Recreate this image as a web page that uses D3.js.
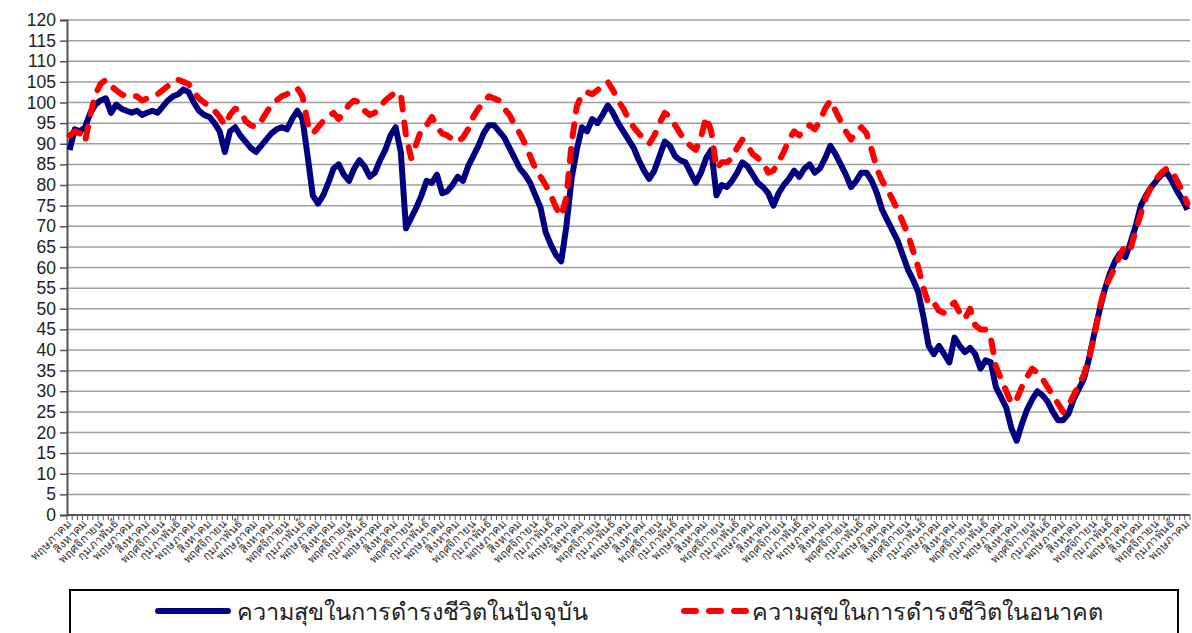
<!DOCTYPE html>
<html>
<head>
<meta charset="utf-8">
<script src="https://cdn.jsdelivr.net/npm/d3@7"></script>
<style>
  body { margin: 0; background: #fff; }
  svg { display: block; font-family: "Liberation Sans", Arial, sans-serif; }
</style>
</head>
<body>
<div id="chart"></div>
<script>
// Thai month names, categories start at May and run monthly
const monthNames = ["มกราคม","กุมภาพันธ์","มีนาคม","เมษายน","พฤษภาคม","มิถุนายน",
  "กรกฎาคม","สิงหาคม","กันยายน","ตุลาคม","พฤศจิกายน","ธันวาคม"];
const startMonth = 4;

// ความสุขในการดำรงชีวิตในปัจจุบัน
const current = [
  88.5,93.5,93,94,97.5,99.5,100.5,101,97.5,99.5,98.5,98,97.5,98,97,97.5,98,97.5,99,100.5,
  101.5,102,103.2,102.5,100,98,97,96.5,95,93,88,93,94,92,90.5,89,88,89.5,91,92.5,
  93.5,94,93.5,96,98,96,87,77.5,75.5,77.5,80.5,84,85,82.5,81,84,86,84.5,82,83,
  86,88.5,92,94,88,69.5,72,74.5,77.5,81,80.5,82.5,78,78.5,80,82,81,84.5,87,89.5,
  92.5,94.5,94.5,93,91.5,89,86.5,84,82.5,80.5,77.5,74.5,68.5,65.5,63,61.5,70,81.5,88.5,94,
  93,96,95,97,99.3,97.5,95,93,91,89,86,83.5,81.5,83.5,87,90.5,89.5,87,86,85.5,
  83,80.5,83,86.5,88.5,77.5,80,79.5,81,83,85.5,84.5,82.5,80.5,79.5,78,75,78,80,81.5,
  83.5,82,84,85,83,84,86.5,89.5,87.5,85,82.5,79.5,81,83,83,81,78,74,71.5,69,
  66.5,63,59.5,57,54,48,41,39,41,39,37,43,41,39.5,40.5,39,35.5,37.5,37,31,
  28.5,26,21,18,22,25.5,28,30,29,27.5,25,23,23,24.5,28,30.5,33,38,44,49.5,
  54.5,58.5,61.5,63.5,62.5,66,70,75,77.5,79.5,81,82.5,83,81,78.5,76.5,74
];

// ความสุขในการดำรงชีวิตในอนาคต
const future = [
  92,93,92.5,90.5,97,102,104.5,105.5,104,103,102,101.5,101.5,101.5,100.5,101,101.5,102,103,104,
  105,105.5,105,104.5,102.5,101,100,99,98,96.5,94.5,97,98.5,98,95.5,94.5,94,95.5,97.5,99.5,
  100.5,101.5,102,103,103.5,101.5,95,92.5,94,95.5,96.5,97.5,96,97.5,99.5,100.5,100,98,97,97.5,
  99,100.5,101.5,102.5,102,92,86.5,90,93.5,94.5,96.5,94,92.5,92,91,90.5,91.5,93.5,96.5,98.5,
  100,101.5,101,100.5,98.5,97,94.5,92.5,90,87,84,82,80,77.5,74.5,72.5,77,90,99,102,
  102.5,102,103,104,105,103,100.5,98.5,96,94,92.5,91,90,92,95,97.5,96.5,94.5,92.5,90.5,
  89.5,88.5,91.5,96.5,93,84,85.5,85.5,86.5,89,91,89.5,87.5,86.5,85.5,83,83.5,85.5,88,91,
  93,92,93.5,94.5,93.5,95.5,98.5,100.5,98,95.5,93,91,93,94,92.5,88.5,84,81,79,76.5,
  74,71,68,64,60,55,51,51.5,49.5,49,50.5,51.5,49,47.5,50,46,45,45,43,36,
  33,30,27,28,31,33.5,35.5,34.5,33,31,29,27,25,26.5,29,31.5,34,38,43.5,50,
  55,57.5,60,63,65.5,64.5,69,73,77,79.5,81.5,83,84,83.5,81,78.5,75.5
];

const yTicks = d3.range(0, 121, 5);
const seriesNames = ["ความสุขในการดำรงชีวิตในปัจจุบัน", "ความสุขในการดำรงชีวิตในอนาคต"];

const categories = current.map((d, i) => monthNames[(startMonth + i) % 12]);

const W = 1192, H = 633;
const margin = {top: 20, right: 2, bottom: 118, left: 67};
const width = W - margin.left - margin.right,
      height = H - margin.top - margin.bottom;

const svg = d3.select("#chart").append("svg")
    .attr("width", W)
    .attr("height", H);

const g = svg.append("g")
    .attr("transform", `translate(${margin.left},${margin.top})`);

const x = d3.scaleBand()
    .domain(d3.range(categories.length))
    .range([0, width]);

const y = d3.scaleLinear()
    .domain([0, 120])
    .range([height, 0]);

// gridlines
g.append("g")
  .selectAll("line")
  .data(yTicks.filter(d => d > 0))
  .join("line")
    .attr("x1", 0)
    .attr("x2", width)
    .attr("y1", d => y(d))
    .attr("y2", d => y(d))
    .attr("stroke", "#a0a0a0")
    .attr("stroke-width", 1.5);

// Y axis
const yAxis = g.append("g")
    .call(d3.axisLeft(y).tickValues(yTicks).tickSize(7).tickPadding(4));
yAxis.select(".domain").attr("stroke", "#555").attr("stroke-width", 2);
yAxis.selectAll(".tick line").attr("stroke", "#555").attr("stroke-width", 1.5);
yAxis.selectAll("text")
    .attr("font-size", 17.5)
    .attr("fill", "#222")
    .attr("font-family", "Liberation Sans, Arial, sans-serif");

// X axis: tick marks between categories
const xg = g.append("g").attr("transform", `translate(0,${height})`);
xg.append("line")
    .attr("x1", 0).attr("x2", width)
    .attr("stroke", "#555").attr("stroke-width", 2);
xg.selectAll("line.tk")
  .data(d3.range(categories.length + 1))
  .join("line")
    .attr("class", "tk")
    .attr("x1", d => d * x.bandwidth())
    .attr("x2", d => d * x.bandwidth())
    .attr("y1", 0)
    .attr("y2", 5)
    .attr("stroke", "#555")
    .attr("stroke-width", 1);

xg.selectAll("text")
  .data(categories.map((c, i) => ({c, i})).filter(d => d.i % 3 === 0))
  .join("text")
    .attr("transform", d => `translate(${x(d.i) + x.bandwidth() / 2 + 3},9) rotate(-45)`)
    .attr("text-anchor", "end")
    .attr("font-size", 11.5)
    .attr("fill", "#333")
    .attr("font-family", "Noto Sans, sans-serif")
    .text(d => d.c);

const line = d3.line()
    .x((d, i) => x(i) + x.bandwidth() / 2)
    .y(d => y(d));

g.append("path")
    .datum(current)
    .attr("fill", "none")
    .attr("stroke", "#000080")
    .attr("stroke-width", 6)
    .attr("stroke-linejoin", "round")
    .attr("d", line);

g.append("path")
    .datum(future)
    .attr("fill", "none")
    .attr("stroke", "#ff0000")
    .attr("stroke-width", 6)
    .attr("stroke-linejoin", "round")
    .attr("stroke-linecap", "round")
    .attr("stroke-dasharray", "12,13")
    .attr("d", line);

// legend
const lg = svg.append("g");
lg.append("rect")
    .attr("x", 70).attr("y", 590)
    .attr("width", 1108).attr("height", 60)
    .attr("fill", "#fff")
    .attr("stroke", "#000")
    .attr("stroke-width", 2);

lg.append("line")
    .attr("x1", 158).attr("x2", 228)
    .attr("y1", 611).attr("y2", 611)
    .attr("stroke", "#000080").attr("stroke-width", 6)
    .attr("stroke-linecap", "round");
lg.append("text")
    .attr("x", 237).attr("y", 620)
    .attr("font-size", 23.5)
    .attr("font-family", "Noto Sans, sans-serif")
    .attr("fill", "#222")
    .text(seriesNames[0]);

lg.append("line")
    .attr("x1", 684).attr("x2", 746)
    .attr("y1", 611).attr("y2", 611)
    .attr("stroke", "#ff0000").attr("stroke-width", 6)
    .attr("stroke-linecap", "round")
    .attr("stroke-dasharray", "12,13");
lg.append("text")
    .attr("x", 752).attr("y", 620)
    .attr("font-size", 23.5)
    .attr("font-family", "Noto Sans, sans-serif")
    .attr("fill", "#222")
    .text(seriesNames[1]);
</script>
</body>
</html>
